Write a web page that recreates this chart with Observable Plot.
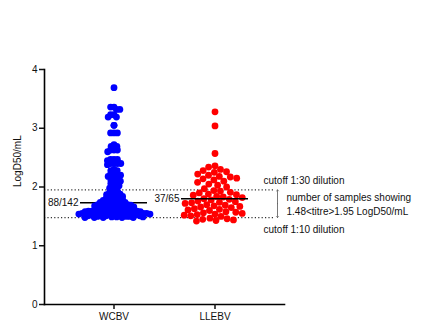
<!DOCTYPE html>
<html><head><meta charset="utf-8">
<script src="https://cdn.jsdelivr.net/npm/d3@7"></script>
<script src="https://cdn.jsdelivr.net/npm/@observablehq/plot@0.6"></script>
<style>
body{margin:0;background:#fff;}
#chart{position:relative;width:421px;height:322px;}
#chart svg{position:absolute;left:0;top:0;display:block;}
</style>
</head><body><div id="chart"></div>
<script>
const groups = ["WCBV", "LLEBV"];
const wcbv = [3.69, 3.36, 3.36, 3.32, 3.32, 3.23, 3.23, 3.19, 3.19, 3.05, 3.05,
  2.92, 2.92, 2.92, 2.72, 2.69, 2.69, 2.63, 2.63, 2.63, 2.60, 2.47, 2.47, 2.47, 2.45,
  2.40, 2.40, 2.40, 2.40, 2.38, 2.30, 2.28, 2.28, 2.22, 2.22, 2.20, 2.20, 2.18,
  2.14, 2.12, 2.12, 2.10, 2.08, 2.06, 2.03, 2.02, 2.00, 1.98, 1.96,
  1.93, 1.92, 1.90, 1.89, 1.88, 1.87, 1.86, 1.85, 1.84, 1.83, 1.82, 1.81, 1.80, 1.79,
  1.78, 1.78, 1.77, 1.76, 1.75, 1.75, 1.74, 1.74,
  1.72, 1.72, 1.71, 1.71, 1.70, 1.70, 1.70, 1.69, 1.69, 1.68, 1.68, 1.67, 1.67,
  1.66, 1.66, 1.65, 1.65, 1.64, 1.64,
  1.63, 1.63, 1.62, 1.62, 1.61, 1.61, 1.61, 1.60, 1.60, 1.60, 1.59, 1.59, 1.59,
  1.58, 1.58, 1.58, 1.57, 1.57, 1.57, 1.56, 1.56, 1.56, 1.56,
  1.55, 1.55, 1.55, 1.55, 1.54, 1.54, 1.54, 1.54, 1.53, 1.53, 1.53, 1.53,
  1.52, 1.52, 1.52, 1.51, 1.51, 1.51, 1.50, 1.50, 1.50,
  1.49, 1.49, 1.49,
  1.48, 1.48, 1.48, 1.48, 1.48];
const llebv = [3.28, 3.04, 2.57, 2.36, 2.34, 2.30, 2.28, 2.26, 2.25, 2.22, 2.20, 2.18,
  2.17, 2.15, 2.14, 2.12, 2.10, 2.08, 2.05, 2.03, 2.00, 1.97,
  1.94, 1.93, 1.91, 1.90, 1.88, 1.87, 1.86, 1.84, 1.83, 1.82,
  1.80, 1.79, 1.78, 1.76, 1.75, 1.74, 1.73, 1.72, 1.70, 1.69, 1.68, 1.67, 1.66, 1.65,
  1.63, 1.62, 1.61, 1.60, 1.58, 1.57, 1.56, 1.55, 1.54, 1.53, 1.52, 1.51, 1.50,
  1.47, 1.46, 1.45, 1.44, 1.43, 1.42];
const ratioLabels = ["88/142", "37/65"];
const cutoffs = [1.95, 1.48];
const cutoffLabels = ["cutoff 1:30 dilution", "cutoff 1:10 dilution"];
const noteLines = ["number of samples showing", "1.48<titre>1.95 LogD50/mL"];
const yTicks = [0, 1, 2, 3, 4];
const yLabel = "LogD50/mL";
const colors = ["#0000ff", "#ff0000"];

const W = 421, H = 322, mL = 44, mR = 137, mT = 69, mB = 18;
const yDomain = [0, 4];
const pxPerUnit = (H - mT - mB) / (yDomain[1] - yDomain[0]);
const bandOpts = {domain: groups, paddingInner: 0.1, paddingOuter: 0.2265};

const wData = wcbv.map(v => ({group: groups[0], value: v}));
const lData = llebv.map(v => ({group: groups[1], value: v}));
const medians = [
  {group: groups[0], value: d3.median(wcbv), label: ratioLabels[0]},
  {group: groups[1], value: d3.median(llebv), label: ratioLabels[1]}
];
const font = "'Liberation Sans', Arial, sans-serif";
const halfArrow = (cutoffs[0] - cutoffs[1]) * pxPerUnit / 2;
const common = {width: W, height: H, marginLeft: mL, marginRight: mR, marginTop: mT, marginBottom: mB};

// base layer: axes, cutoff lines, annotations
const base = Plot.plot({
  ...common,
  style: {fontFamily: font, fontSize: "10px", color: "#111", background: "#fff", overflow: "visible"},
  x: {type: "band", ...bandOpts},
  y: {domain: yDomain},
  marks: [
    Plot.ruleY(cutoffs, {y: d => d, stroke: "#333", strokeWidth: 1.2, strokeDasharray: "1.2,2.2", insetRight: 9}),
    Plot.text([cutoffLabels[0]], {y: cutoffs[0], text: d => d, frameAnchor: "right", textAnchor: "start", dx: -21, dy: -9, fontSize: 10}),
    Plot.text([cutoffLabels[1]], {y: cutoffs[1], text: d => d, frameAnchor: "right", textAnchor: "start", dx: -21, dy: 12, fontSize: 10}),
    Plot.text([noteLines.join("\n")], {y: d3.mean(cutoffs), text: d => d, frameAnchor: "right", textAnchor: "start", dx: 2, lineHeight: 1.35, fontSize: 10}),
    Plot.vector([0, 180], {y: d3.mean(cutoffs), rotate: d => d, length: halfArrow, anchor: "start", r: 1.2, frameAnchor: "right", dx: -7, stroke: "#555", strokeWidth: 0.8}),
    Plot.frame({anchor: "left", stroke: "#000", strokeWidth: 1.6}),
    Plot.frame({anchor: "bottom", stroke: "#000", strokeWidth: 1.6}),
    Plot.axisY({ticks: yTicks, tickSize: 5, tickPadding: 2, tickFormat: d => String(d), label: null, strokeWidth: 1.5, fontSize: 10}),
    Plot.axisX({anchor: "bottom", tickSize: 5, tickPadding: 3, label: null, strokeWidth: 1.5, fontSize: 10}),
    Plot.text([yLabel], {text: d => d, frameAnchor: "left", dx: -27, rotate: -90, fontSize: 10})
  ]
});

// top layer: beeswarm dots, medians and their labels
const swarm = Plot.plot({
  ...common,
  style: {fontFamily: font, fontSize: "10px", color: "#111", background: "transparent", overflow: "visible"},
  fx: {...bandOpts, axis: null},
  y: {domain: yDomain, axis: null},
  marks: [
    Plot.dot(lData, Plot.dodgeX({anchor: "middle", padding: -0.3}, {fx: "group", y: "value", r: 3.4, fill: colors[1]})),
    Plot.tickY(medians, {fx: "group", y: "value", stroke: "#000", strokeWidth: 1.5, insetLeft: 12, insetRight: 12}),
    Plot.dot(wData, Plot.dodgeX({anchor: "middle", padding: -3.4}, {fx: "group", y: "value", r: 3.4, fill: colors[0]})),
    Plot.text(medians, {fx: "group", y: "value", text: "label", frameAnchor: "left", textAnchor: "end", dx: 10, fontSize: 10})
  ]
});
const el = document.getElementById("chart");
el.appendChild(base);
el.appendChild(swarm);
</script>
</body></html>
